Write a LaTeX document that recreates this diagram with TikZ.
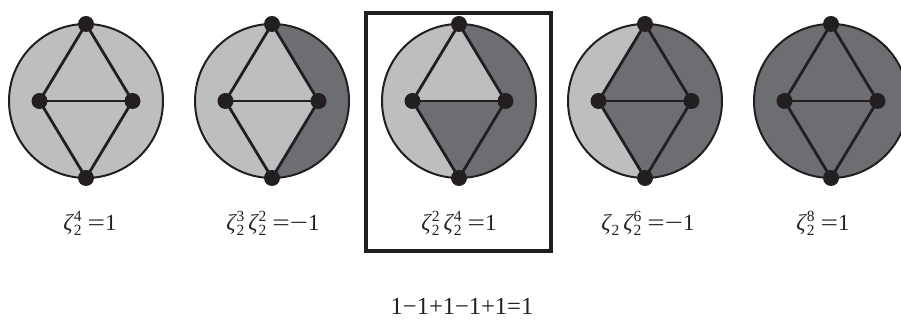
\documentclass[tikz,border=0pt]{standalone}
\usepackage{fontspec}
\setmainfont{Liberation Serif}
\pgfdeclarelayer{bg}
\pgfsetlayers{bg,main}
\definecolor{lt}{HTML}{BCBEC0}
\definecolor{dk}{HTML}{6D6E71}
\definecolor{ink}{HTML}{231F20}
\newcommand\scr{\fontsize{15.5}{16}\selectfont}
\newcommand\zt[1]{{\itshape ζ}\kern1pt\makebox[0pt][l]{\raisebox{9.5pt}{\scr #1}}\raisebox{-5pt}{\scr 2}\kern4pt}
\newcommand\zs{{\itshape ζ}\kern1pt\raisebox{-5pt}{\scr 2}\kern4pt}
\newcommand\eq{\kern2pt\scalebox{1.35}[1]{=}}
\newcommand\mn{\scalebox{1.4}[1]{−}}
\tikzset{
 vtx/.style={circle,fill=ink,minimum size=16pt,inner sep=0pt},
 edge/.style={draw=ink,line width=2.8pt},
 rim/.style={draw=ink,line width=2pt},
 lbl/.style={font=\fontsize{23}{24}\selectfont,anchor=base,inner sep=0pt,text=ink},
 frame/.style={draw=ink,line width=4pt}
}
\begin{document}
\begin{tikzpicture}[x=1pt,y=1pt]
\useasboundingbox (0,0) rectangle (901,320);
\foreach \i/\cx/\lc/\rc/\uc/\dc in {1/86/lt/lt/lt/lt,2/272/lt/dk/lt/lt,3/459/lt/dk/lt/dk,4/645/lt/dk/dk/dk,5/831/dk/dk/dk/dk}{
 \node[vtx] (t\i) at (\cx,296) {};
 \node[vtx] (b\i) at (\cx,142) {};
 \node[vtx] (l\i) at (\cx-46.5,219) {};
 \node[vtx] (r\i) at (\cx+46.5,219) {};
 \begin{pgfonlayer}{bg}
 \fill[\lc] (t\i.center) arc[start angle=90,end angle=270,radius=77] -- (l\i.center) -- cycle;
 \fill[\rc] (t\i.center) arc[start angle=90,end angle=-90,radius=77] -- (r\i.center) -- cycle;
 \fill[\uc] (t\i.center) -- (l\i.center) -- (r\i.center) -- cycle;
 \fill[\dc] (b\i.center) -- (l\i.center) -- (r\i.center) -- cycle;
 \draw[rim] (\cx,219) circle[radius=77];
 \end{pgfonlayer}
 \draw[edge] (t\i.center) -- (l\i.center) -- (b\i.center) -- (r\i.center) -- cycle;
 \draw[edge] (l\i.center) -- (r\i.center);
}
\draw[frame] (366,307) rectangle (551,69);
\node[lbl] (z1) at (90,89) {\zt{4}\eq1};
\node[lbl] (z2) at (273,89) {\zt{3}\zt{2}\eq\mn1};
\node[lbl] (z3) at (459,89) {\zt{2}\zt{4}\eq1};
\node[lbl] (z4) at (648,89) {\zs\zt{6}\eq\mn1};
\node[lbl] (z5) at (823,89) {\zt{8}\eq1};
\node[lbl,font=\fontsize{24.5}{26}\selectfont] (sum) at (462,5) {1−1+1−1+1=1};
\end{tikzpicture}
\end{document}
